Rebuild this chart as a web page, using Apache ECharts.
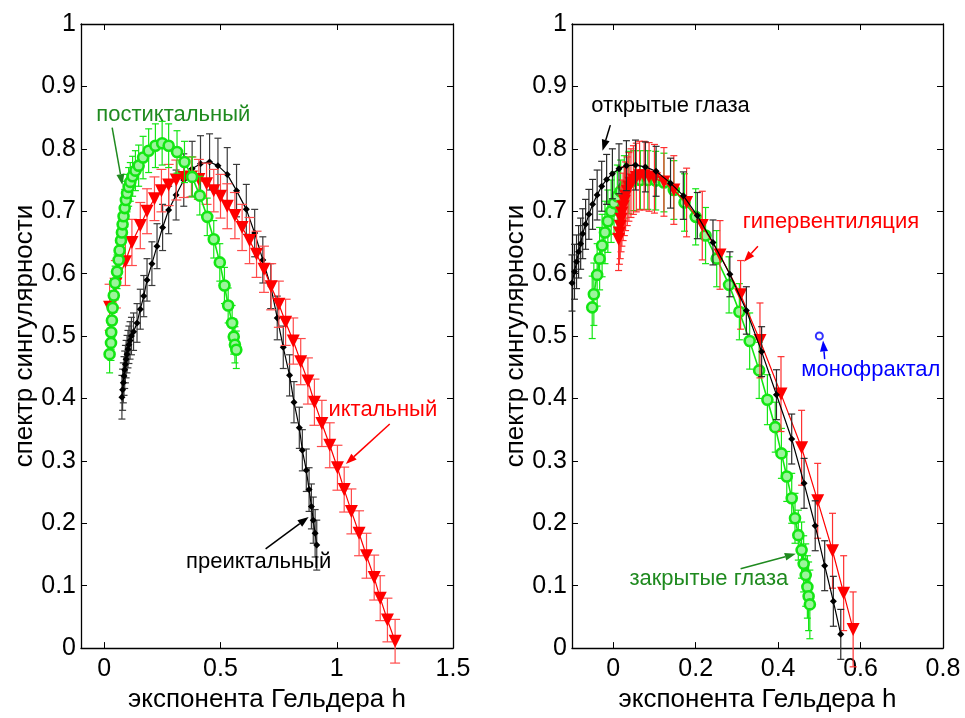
<!DOCTYPE html>
<html><head><meta charset="utf-8">
<script src="https://cdn.jsdelivr.net/npm/echarts@6/dist/echarts.min.js"></script>
<style>html,body{margin:0;padding:0;background:#fff}#c{width:965px;height:718px}</style>
</head><body><div id="c"></div>
<script>
// ---------- DATA ----------
const yTicks = [0,0.1,0.2,0.3,0.4,0.5,0.6,0.7,0.8,0.9,1];
const leftXTicks = [0,0.5,1,1.5];
const rightXTicks = [0,0.2,0.4,0.6,0.8];
const xName = 'экспонента Гельдера h';
const yName = 'спектр сингулярности';

// left panel: postictal (green)
const postX = [0.023,0.029,0.030,0.033,0.036,0.041,0.047,0.055,0.062,0.066,0.072,0.076,0.079,0.083,0.088,0.093,0.098,0.105,0.112,0.122,0.134,0.148,0.167,0.191,0.220,0.249,0.277,0.313,0.345,0.378,0.411,0.443,0.471,0.497,0.517,0.533,0.550,0.557,0.562,0.568];
const postY = [0.471,0.489,0.506,0.525,0.545,0.565,0.585,0.603,0.622,0.637,0.653,0.666,0.679,0.692,0.705,0.718,0.729,0.739,0.747,0.756,0.765,0.773,0.786,0.797,0.805,0.809,0.805,0.795,0.779,0.755,0.725,0.691,0.655,0.618,0.581,0.549,0.521,0.499,0.486,0.478];
const postErr = [0.03,0.028,0.027,0.027,0.027,0.027,0.027,0.027,0.028,0.028,0.028,0.028,0.029,0.029,0.03,0.03,0.03,0.031,0.031,0.032,0.032,0.033,0.034,0.035,0.035,0.035,0.035,0.034,0.033,0.032,0.031,0.03,0.03,0.03,0.029,0.028,0.028,0.028,0.029,0.03];

// left panel: ictal (red)
const ictX = [0.023,0.050,0.091,0.119,0.155,0.184,0.216,0.246,0.277,0.310,0.342,0.375,0.407,0.440,0.471,0.500,0.529,0.562,0.593,0.625,0.655,0.687,0.718,0.751,0.780,0.813,0.845,0.876,0.904,0.936,0.970,1.003,1.032,1.063,1.096,1.128,1.161,1.187,1.218,1.251];
const ictY = [0.546,0.583,0.619,0.650,0.677,0.700,0.720,0.733,0.742,0.750,0.754,0.755,0.751,0.744,0.733,0.724,0.708,0.693,0.674,0.653,0.631,0.607,0.579,0.551,0.522,0.492,0.459,0.428,0.394,0.360,0.325,0.289,0.254,0.219,0.184,0.148,0.113,0.080,0.045,0.011];
const ictErr = [0.037,0.038,0.038,0.037,0.037,0.036,0.035,0.034,0.033,0.032,0.032,0.032,0.032,0.033,0.034,0.035,0.036,0.037,0.037,0.037,0.037,0.037,0.037,0.037,0.037,0.037,0.037,0.037,0.037,0.037,0.036,0.036,0.036,0.036,0.036,0.036,0.036,0.036,0.035,0.035];

// left panel: preictal (black)
const preX = [0.076,0.079,0.082,0.085,0.088,0.091,0.094,0.098,0.102,0.106,0.111,0.117,0.126,0.141,0.155,0.170,0.184,0.205,0.227,0.251,0.277,0.309,0.342,0.378,0.414,0.453,0.489,0.529,0.569,0.611,0.647,0.682,0.716,0.744,0.770,0.797,0.816,0.839,0.852,0.869,0.881,0.891,0.899,0.907,0.914];
const preY = [0.402,0.414,0.425,0.436,0.446,0.455,0.463,0.471,0.479,0.486,0.493,0.500,0.507,0.521,0.543,0.564,0.590,0.616,0.644,0.674,0.702,0.726,0.750,0.768,0.776,0.779,0.773,0.759,0.733,0.703,0.665,0.622,0.580,0.529,0.482,0.437,0.394,0.353,0.317,0.285,0.254,0.227,0.205,0.184,0.165];
const preErr = [0.035,0.033,0.032,0.031,0.03,0.03,0.03,0.03,0.03,0.03,0.03,0.03,0.03,0.031,0.032,0.033,0.034,0.035,0.036,0.037,0.038,0.04,0.042,0.044,0.045,0.045,0.044,0.043,0.042,0.04,0.038,0.037,0.036,0.035,0.034,0.033,0.033,0.033,0.033,0.034,0.035,0.036,0.037,0.038,0.04];

// right panel: eyes open (black)
const openX = [-0.100,-0.094,-0.089,-0.084,-0.079,-0.074,-0.067,-0.059,-0.050,-0.039,-0.028,-0.016,-0.002,0.014,0.032,0.054,0.078,0.104,0.139,0.170,0.204,0.242,0.283,0.323,0.360,0.396,0.433,0.463,0.490,0.513,0.534,0.552];
const openY = [0.585,0.603,0.619,0.635,0.648,0.664,0.679,0.695,0.711,0.726,0.740,0.751,0.760,0.768,0.773,0.774,0.771,0.764,0.745,0.725,0.693,0.650,0.599,0.541,0.475,0.406,0.335,0.264,0.196,0.132,0.075,0.022];
const openErr = [0.045,0.044,0.043,0.042,0.041,0.04,0.04,0.04,0.04,0.04,0.04,0.04,0.04,0.04,0.04,0.04,0.04,0.04,0.04,0.038,0.037,0.036,0.036,0.038,0.04,0.04,0.04,0.04,0.04,0.04,0.04,0.04];

// right panel: hyperventilation (red)
const hypX = [0.013,0.015,0.017,0.019,0.021,0.024,0.027,0.030,0.034,0.038,0.043,0.049,0.056,0.064,0.075,0.087,0.100,0.123,0.147,0.178,0.216,0.259,0.309,0.356,0.407,0.457,0.496,0.532,0.559,0.582];
const hypY = [0.655,0.665,0.676,0.687,0.697,0.707,0.716,0.724,0.732,0.739,0.745,0.750,0.754,0.757,0.757,0.755,0.752,0.747,0.734,0.714,0.677,0.630,0.566,0.493,0.407,0.321,0.236,0.156,0.088,0.030];
const hypErr = [0.05,0.05,0.052,0.052,0.053,0.054,0.055,0.055,0.055,0.055,0.055,0.055,0.055,0.055,0.055,0.055,0.055,0.055,0.055,0.055,0.055,0.055,0.055,0.06,0.06,0.06,0.06,0.06,0.06,0.06];

// right panel: eyes closed (green)
const closedX = [-0.051,-0.047,-0.039,-0.033,-0.027,-0.020,-0.013,-0.005,0.002,0.010,0.018,0.027,0.038,0.050,0.066,0.084,0.103,0.123,0.147,0.173,0.200,0.224,0.251,0.281,0.306,0.331,0.354,0.374,0.393,0.408,0.421,0.433,0.441,0.449,0.457,0.462,0.467,0.471,0.474,0.477];
const closedY = [0.546,0.567,0.598,0.624,0.645,0.666,0.684,0.700,0.713,0.724,0.732,0.739,0.746,0.749,0.750,0.750,0.749,0.746,0.734,0.714,0.691,0.661,0.624,0.582,0.539,0.492,0.445,0.398,0.354,0.312,0.275,0.240,0.208,0.181,0.157,0.135,0.117,0.098,0.083,0.070];
const closedErr = [0.05,0.05,0.05,0.05,0.05,0.05,0.05,0.05,0.05,0.05,0.05,0.05,0.05,0.048,0.047,0.047,0.047,0.047,0.047,0.046,0.045,0.045,0.045,0.045,0.045,0.045,0.045,0.04,0.04,0.04,0.04,0.04,0.04,0.04,0.045,0.045,0.05,0.05,0.055,0.055];

// monofractal point
const monoX = [0.5];
const monoY = [0.5];

// annotations
const annTexts = ['постиктальный','иктальный','преиктальный','открытые глаза','гипервентиляция','закрытые глаза','монофрактал'];
const annPanel = [0,0,0,1,1,1,1];
const annPos = [[0.297,0.854],[1.198,0.381],[0.664,0.138],[0.139,0.868],[0.528,0.683],[0.232,0.111],[0.625,0.446]];
const annArrow = [[0.034,0.834,0.078,0.742],[1.228,0.359,1.039,0.295],[0.694,0.159,0.879,0.210],[-0.007,0.838,-0.026,0.797],[0.351,0.644,0.317,0.619],[0.309,0.127,0.443,0.151],[0.513,0.463,0.509,0.493]];
const annColor = ['#1f8a1f','#ff0000','#000000','#000000','#ff0000','#1f8a1f','#0000ff'];

// ---------- CHART ----------
const FONT = '"Liberation Sans", Arial, Helvetica, sans-serif';
const chart = echarts.init(document.getElementById('c'), null, {renderer:'canvas'});

function xAxisDef(gi, min, max, ticks, top) {
  return {
    type:'value', gridIndex:gi, min:min, max:max, position: top ? 'top' : 'bottom',
    axisLine:{show:true, onZero:false, lineStyle:{color:'#000', width:1.3}},
    axisTick:{show:true, inside:true, length:6, customValues:ticks, lineStyle:{color:'#000', width:1}},
    axisLabel:{show:!top, customValues:ticks, color:'#000', fontSize:25, fontFamily:FONT, margin:9,
      showMinLabel:true, showMaxLabel:true, formatter:function(v){return String(Math.round(v*10)/10);}},
    splitLine:{show:false},
    name: top ? '' : xName, nameLocation:'middle', nameGap:30,
    nameTextStyle:{color:'#000', fontSize:26, fontFamily:FONT}
  };
}
function yAxisDef(gi, right) {
  return {
    type:'value', gridIndex:gi, min:0, max:1, interval:0.1, position: right ? 'right' : 'left',
    axisLine:{show:true, onZero:false, lineStyle:{color:'#000', width:1.3}},
    axisTick:{show:true, inside:true, length:6, lineStyle:{color:'#000', width:1}},
    axisLabel:{show:!right, color:'#000', fontSize:25, fontFamily:FONT, margin:5,
      showMinLabel:true, showMaxLabel:true, formatter:function(v){return String(Math.round(v*10)/10);}},
    splitLine:{show:false},
    name: right ? '' : yName, nameLocation:'middle', nameGap:38,
    nameTextStyle:{color:'#000', fontSize:26, fontFamily:FONT}
  };
}

function errSeries(xs, ys, es, xi, yi, color, cap, z) {
  return {
    type:'custom', xAxisIndex:xi, yAxisIndex:yi, z:z, silent:true, clip:false,
    encode:{x:0, y:[1,2]},
    data: xs.map(function(v,i){return [v, ys[i]-es[i], ys[i]+es[i]];}),
    renderItem:function(params, api){
      var x = api.value(0);
      var lo = api.coord([x, api.value(1)]);
      var hi = api.coord([x, api.value(2)]);
      var st = {stroke:color, lineWidth:1.2};
      return {type:'group', children:[
        {type:'line', shape:{x1:hi[0], y1:hi[1], x2:lo[0], y2:lo[1]}, style:st},
        {type:'line', shape:{x1:hi[0]-cap, y1:hi[1], x2:hi[0]+cap, y2:hi[1]}, style:st},
        {type:'line', shape:{x1:lo[0]-cap, y1:lo[1], x2:lo[0]+cap, y2:lo[1]}, style:st}
      ]};
    }
  };
}
function lineSeries(xs, ys, xi, yi, color, symbol, size, rotate, lw, z, border, fill) {
  return {
    type:'line', xAxisIndex:xi, yAxisIndex:yi, z:z,
    data: xs.map(function(v,i){return [v, ys[i]];}),
    symbol:symbol, symbolSize:size, symbolRotate:rotate, showAllSymbol:true,
    lineStyle:{color:color, width:lw},
    itemStyle:{color: fill || color, borderColor:color, borderWidth:border},
    emphasis:{disabled:true}, animation:false
  };
}

const GREEN = '#14e614';
const option = {
  animation:false,
  backgroundColor:'#fff',
  grid:[
    {left:81, top:24, width:372, height:637, containLabel:false},
    {left:572, top:24, width:371, height:637, containLabel:false}
  ],
  xAxis:[
    xAxisDef(0, -0.1, 1.5, leftXTicks, false),
    xAxisDef(0, -0.1, 1.5, leftXTicks, true),
    xAxisDef(1, -0.1, 0.8, rightXTicks, false),
    xAxisDef(1, -0.1, 0.8, rightXTicks, true)
  ],
  yAxis:[ yAxisDef(0,false), yAxisDef(0,true), yAxisDef(1,false), yAxisDef(1,true) ],
  series:[
    errSeries(preX, preY, preErr, 0, 0, '#3a3a3a', 3.5, 2),
    lineSeries(preX, preY, 0, 0, '#000', 'diamond', 7, 0, 1.2, 3, 0),
    errSeries(ictX, ictY, ictErr, 0, 0, '#ff4a4a', 5, 4),
    lineSeries(ictX, ictY, 0, 0, '#ff0000', 'triangle', 13, 180, 1.2, 5, 0),
    errSeries(postX, postY, postErr, 0, 0, GREEN, 3.5, 6),
    lineSeries(postX, postY, 0, 0, GREEN, 'circle', 10, 0, 1.6, 7, 2.6, '#9cf59c'),

    errSeries(closedX, closedY, closedErr, 2, 2, GREEN, 3.5, 2),
    lineSeries(closedX, closedY, 2, 2, GREEN, 'circle', 10, 0, 1.6, 3, 2.6, '#9cf59c'),
    errSeries(hypX, hypY, hypErr, 2, 2, '#ff3030', 3.5, 4),
    lineSeries(hypX, hypY, 2, 2, '#ff0000', 'triangle', 13, 180, 1.2, 5, 0),
    errSeries(openX, openY, openErr, 2, 2, '#2a2a2a', 3.5, 6),
    lineSeries(openX, openY, 2, 2, '#000', 'diamond', 7, 0, 1.2, 7, 0),
    {
      type:'scatter', xAxisIndex:2, yAxisIndex:2, z:8,
      data: monoX.map(function(v,i){return [v, monoY[i]];}),
      symbol:'circle', symbolSize:7,
      itemStyle:{color:'#ffffff', borderColor:'#0000ff', borderWidth:2}
    }
  ]
};
chart.setOption(option);

// annotations positioned through the axes' own scales
const graphics = [];
annTexts.forEach(function(t, i){
  const finder = annPanel[i] === 0 ? {xAxisIndex:0, yAxisIndex:0} : {xAxisIndex:2, yAxisIndex:2};
  const tp = chart.convertToPixel(finder, annPos[i]);
  graphics.push({type:'text', x:tp[0], y:tp[1], z:100,
    style:{text:t, fill:annColor[i], font:'22px ' + FONT, textAlign:'center', textVerticalAlign:'middle'}});
  const a = annArrow[i];
  const p1 = chart.convertToPixel(finder, [a[0], a[1]]);
  const p2 = chart.convertToPixel(finder, [a[2], a[3]]);
  const dx = p2[0]-p1[0], dy = p2[1]-p1[1];
  const L = Math.sqrt(dx*dx+dy*dy), ux = dx/L, uy = dy/L;
  const hl = 11, hw = 4;
  const bx = p2[0]-ux*hl, by = p2[1]-uy*hl;
  graphics.push({type:'line', z:100, shape:{x1:p1[0], y1:p1[1], x2:bx, y2:by},
    style:{stroke:annColor[i], lineWidth:1.5}});
  graphics.push({type:'polygon', z:100, shape:{points:[[p2[0],p2[1]],[bx-uy*hw, by+ux*hw],[bx+uy*hw, by-ux*hw]]},
    style:{fill:annColor[i]}});
});
chart.setOption({graphic:graphics});
</script></body></html>
